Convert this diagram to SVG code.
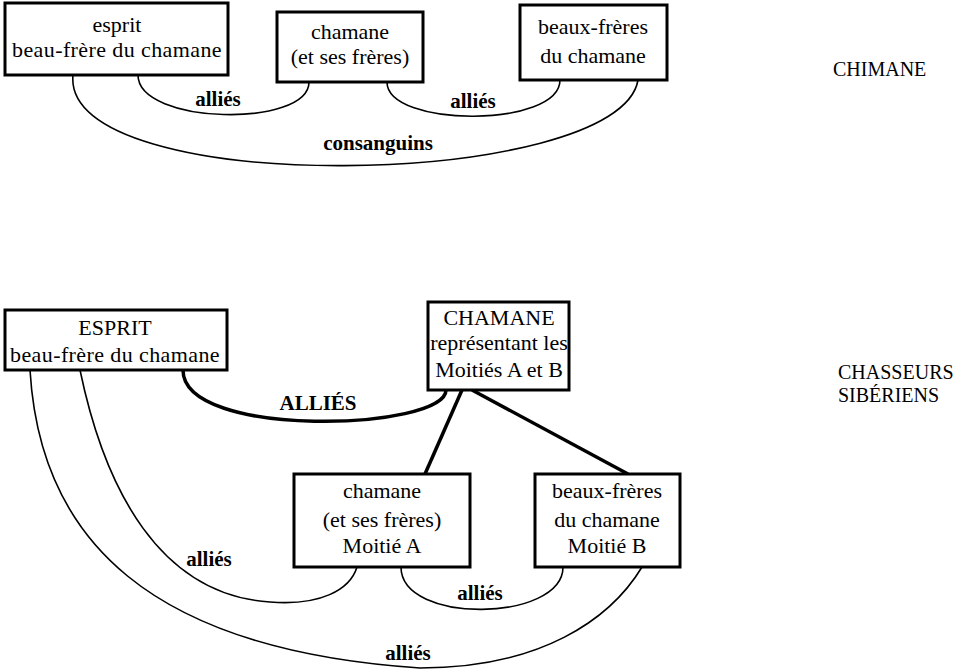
<svg xmlns="http://www.w3.org/2000/svg" width="973" height="672" viewBox="0 0 973 672">
<style>
.box{fill:#fff;stroke:#000;stroke-width:3}
.thin{fill:none;stroke:#000;stroke-width:1.6}
.thick{fill:none;stroke:#000;stroke-width:3.5}
.t{font-family:'Liberation Serif',serif;font-size:22px;fill:#000;text-anchor:middle}
.b{font-family:'Liberation Serif',serif;font-size:21px;font-weight:bold;fill:#000;text-anchor:middle}
.side{font-family:'Liberation Serif',serif;font-size:20px;fill:#000}
</style>
<rect width="973" height="672" fill="#fff"/>
<g id="connectors">
<path class="thin" d="M138,75 C138,125 309,128 309,82"/>
<path class="thin" d="M387,82 C387,128 560,128 560,80"/>
<path class="thin" d="M73,75 C60,200 620,190 638,80"/>
<path class="thin" d="M80,370 C105,490 160,595 270,602 C320,606 350,590 357,567"/>
<path class="thin" d="M30,370 C40,540 150,650 420,668 C540,668 610,620 642,567"/>
<path class="thin" d="M401,567 C401,625 563,622 563,567"/>
<path class="thick" d="M183,370 C183,440 446,430 446,390"/>
<path class="thick" d="M462,390 L425,474"/>
<path class="thick" d="M472,390 L628,474"/>
</g>
<g id="labels">
<text class="b" x="218" y="106">alliés</text>
<text class="b" x="473" y="108">alliés</text>
<text class="b" x="378" y="150">consanguins</text>
<text class="b" x="318" y="410">ALLIÉS</text>
<text class="b" x="209" y="566">alliés</text>
<text class="b" x="480" y="600">alliés</text>
<text class="b" x="408" y="660">alliés</text>
<text class="side" x="833" y="76">CHIMANE</text>
<text class="side" x="838" y="379">CHASSEURS</text>
<text class="side" x="838" y="402">SIBÉRIENS</text>
</g>
<g id="esprit-top">
<rect class="box" x="5" y="3" width="223" height="72"/>
<text class="t" x="117" y="32">esprit</text>
<text class="t" x="117" y="57" letter-spacing="0.4">beau-frère du chamane</text>
</g>
<g id="chamane-top">
<rect class="box" x="277" y="12" width="146" height="70"/>
<text class="t" x="350" y="39">chamane</text>
<text class="t" x="350" y="64">(et ses frères)</text>
</g>
<g id="beauxfreres-top">
<rect class="box" x="520" y="5" width="147" height="75"/>
<text class="t" x="593" y="34">beaux-frères</text>
<text class="t" x="593" y="63">du chamane</text>
</g>
<g id="esprit-bottom">
<rect class="box" x="5" y="310" width="222" height="60"/>
<text class="t" x="115" y="335">ESPRIT</text>
<text class="t" x="115" y="362" letter-spacing="0.4">beau-frère du chamane</text>
</g>
<g id="chamane-ab">
<rect class="box" x="428" y="302" width="141" height="88"/>
<text class="t" x="499" y="325">CHAMANE</text>
<text class="t" x="499" y="350">représentant les</text>
<text class="t" x="499" y="377">Moitiés A et B</text>
</g>
<g id="chamane-a">
<rect class="box" x="294" y="474" width="176" height="93"/>
<text class="t" x="382" y="498">chamane</text>
<text class="t" x="382" y="527">(et ses frères)</text>
<text class="t" x="382" y="553">Moitié A</text>
</g>
<g id="beauxfreres-b">
<rect class="box" x="535" y="474" width="145" height="93"/>
<text class="t" x="607" y="498">beaux-frères</text>
<text class="t" x="607" y="527">du chamane</text>
<text class="t" x="607" y="553">Moitié B</text>
</g>
</svg>
